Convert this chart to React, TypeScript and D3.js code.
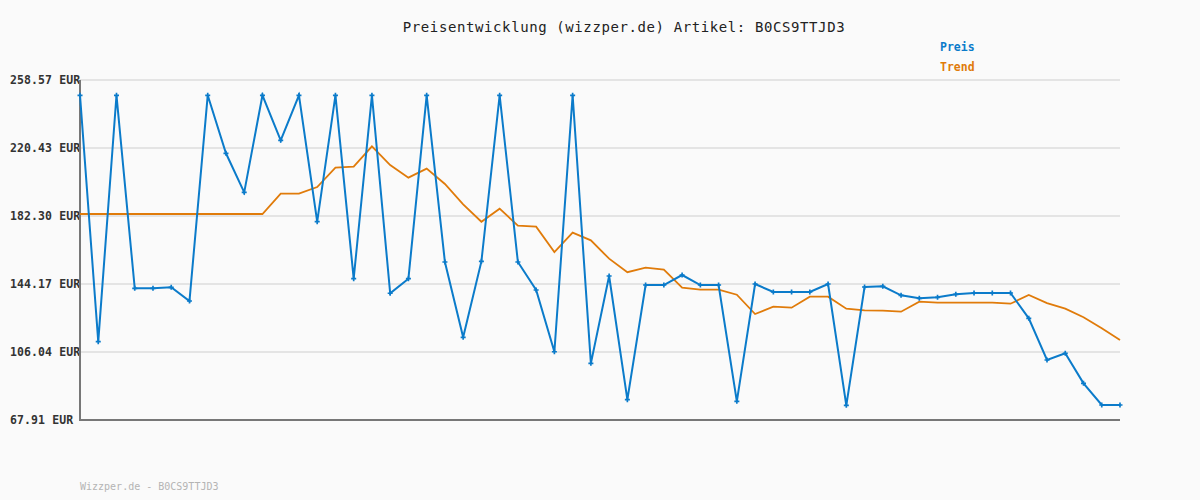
import { line, scaleLinear, symbol, symbolCross } from "d3";
import React from "react";

const title = "Preisentwicklung (wizzper.de) Artikel: B0CS9TTJD3";
const footer = "Wizzper.de - B0CS9TTJD3";
const seriesNames = ["Preis", "Trend"];

const yTicks = [67.91, 106.04, 144.17, 182.3, 220.43, 258.57];

// Preis, one value per snapshot (58 points)
const preis = [
  249.99, 111.82, 249.99, 141.76, 141.76, 142.32, 134.64, 249.99, 217.47,
  195.58, 249.99, 224.74, 249.99, 179.13, 249.99, 147.17, 249.99, 138.97,
  147.17, 249.99, 156.51, 114.27, 156.87, 249.99, 156.51, 140.81, 106.2,
  249.99, 99.67, 148.66, 79.31, 143.61, 143.61, 149.22, 143.61, 143.61, 78.37,
  144.17, 139.69, 139.69, 139.69, 144.17, 76.13, 142.49, 142.87, 137.82,
  136.13, 136.69, 138.37, 139.13, 139.13, 139.13, 124.94, 101.56, 105.3,
  88.47, 76.32, 76.32,
];

const trend = [
  183.43, 183.43, 183.43, 183.43, 183.43, 183.43, 183.43, 183.43, 183.43,
  183.43, 183.43, 194.83, 194.83, 198.57, 209.39, 209.95, 221.4, 210.9, 203.8,
  208.85, 200.25, 188.87, 179.1, 186.4, 176.87, 176.3, 162.12, 172.95, 168.67,
  158.37, 150.77, 153.37, 152.2, 142.1, 140.98, 140.98, 138.17, 127.35,
  131.46, 130.9, 137.07, 137.07, 130.33, 129.4, 129.2, 128.64, 134.25, 133.69,
  133.69, 133.69, 133.69, 133.13, 138.0, 133.5, 130.33, 125.5, 119.33, 112.77,
];

const W = 1200;
const H = 500;
const left = 80;
const right = 1120;
const top = 80;
const bottom = 420;

const blue = "#0b7bca";
const orange = "#e07b0a";
const mono = "'DejaVu Sans Mono', 'Liberation Mono', monospace";

const fmt = (v: number) => `${v.toFixed(2)} EUR`;

export default function App() {
  const x = scaleLinear()
    .domain([0, preis.length - 1])
    .range([left, right]);
  const y = scaleLinear()
    .domain([yTicks[0], yTicks[yTicks.length - 1]])
    .range([bottom, top]);

  const path = line<number>()
    .x((_, i) => x(i))
    .y((d) => y(d));

  const marker = symbol().type(symbolCross).size(14)()!;

  return (
    <svg
      width={W}
      height={H}
      style={{ position: "absolute", left: 0, top: 0 }}
      fontFamily={mono}
    >
      <rect width={W} height={H} fill="#fafafa" />

      <text
        x={624}
        y={28}
        textAnchor="middle"
        dominantBaseline="middle"
        fontSize={14}
        letterSpacing={0.6}
        fill="#222"
      >
        {title}
      </text>

      {yTicks.map((t) => (
        <g key={t}>
          {t !== yTicks[0] && (
            <line
              x1={left}
              x2={right}
              y1={y(t)}
              y2={y(t)}
              stroke="#e4e4e4"
              strokeWidth={2}
            />
          )}
          <text
            x={10}
            y={y(t)}
            dominantBaseline="middle"
            fontSize={11.5}
            fontWeight="bold"
            letterSpacing={0.1}
            fill="#333"
          >
            {fmt(t)}
          </text>
        </g>
      ))}

      <path
        d={`M${left},${top}V${bottom}H${right}`}
        fill="none"
        stroke="#777"
        strokeWidth={2}
      />

      <path d={path(trend)!} fill="none" stroke={orange} strokeWidth={1.8} />
      <path d={path(preis)!} fill="none" stroke={blue} strokeWidth={2} />
      {preis.map((v, i) => (
        <path
          key={i}
          d={marker}
          transform={`translate(${x(i)},${y(v)})`}
          fill={blue}
        />
      ))}

      {seriesNames.map((name, i) => (
        <text
          key={name}
          x={940}
          y={47 + i * 20}
          dominantBaseline="middle"
          fontSize={11.5}
          fontWeight="bold"
          fill={i === 0 ? blue : orange}
        >
          {name}
        </text>
      ))}

      <text x={80} y={487} dominantBaseline="middle" fontSize={10} fill="#b4b4b4">
        {footer}
      </text>
    </svg>
  );
}
